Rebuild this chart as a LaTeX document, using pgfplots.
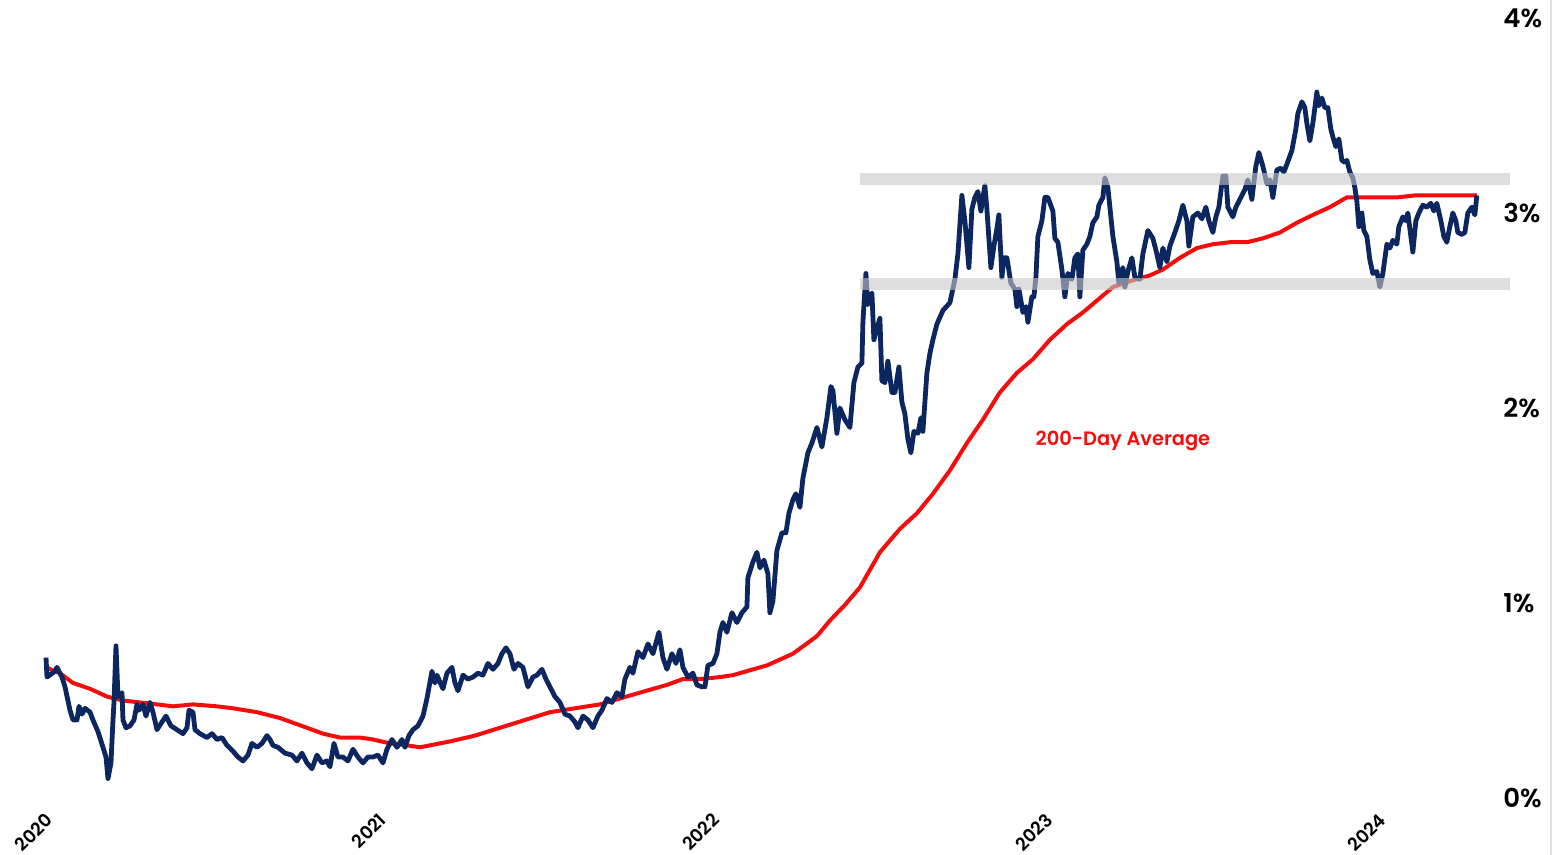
\documentclass[border=0pt]{standalone}
\usepackage{fontspec}
\setmainfont{Poppins}[BoldFont={* SemiBold}]
\usepackage{pgfplots}
\pgfplotsset{compat=1.18}
\definecolor{navy}{RGB}{12,38,96}
\definecolor{avgred}{RGB}{245,12,12}
\definecolor{bandgray}{RGB}{200,200,200}
\begin{document}
\begin{tikzpicture}
\useasboundingbox (-22.5pt,-28.5pt) rectangle (754pt,399pt);
\begin{axis}[
  at={(0,0)}, anchor=south west,
  scale only axis, width=733.25pt, height=390pt,
  xmin=2020, xmax=2024.4, ymin=0, ymax=4,
  axis x line*=bottom, axis y line*=right,
  axis line style={draw=none},
  major tick length=0pt,
  xtick={2020,2021,2022,2023,2024},
  xticklabels={2020,2021,2022,2023,2024},
  ytick={0,1,2,3,4},
  yticklabels={0\%,1\%,2\%,3\%,4\%},
  xticklabel style={font=\fontsize{9}{10}\selectfont\bfseries, rotate=45, anchor=east, inner sep=0pt, xshift=-5.0pt, yshift=-8.2pt},
  yticklabel style={font=\fontsize{13}{14}\selectfont\bfseries, anchor=west, inner sep=0pt, xshift=-4.25pt},
  clip=false,
]
\addplot[avgred, line width=2pt, line join=round] coordinates {
(2020.003,0.67) (2020.045,0.64) (2020.084,0.59) (2020.135,0.56) (2020.186,0.52) (2020.234,0.50)
(2020.285,0.49) (2020.336,0.48) (2020.384,0.47) (2020.444,0.48) (2020.516,0.47) (2020.564,0.46)
(2020.636,0.44) (2020.705,0.41) (2020.786,0.36) (2020.834,0.33) (2020.885,0.31) (2020.945,0.31)
(2020.984,0.30) (2021.035,0.28) (2021.086,0.27) (2021.125,0.26) (2021.215,0.29) (2021.290,0.32)
(2021.365,0.36) (2021.440,0.40) (2021.515,0.44) (2021.590,0.46) (2021.665,0.48) (2021.764,0.53)
(2021.866,0.58) (2021.914,0.61) (2021.965,0.61) (2022.025,0.62) (2022.064,0.63) (2022.166,0.68)
(2022.244,0.74) (2022.316,0.83) (2022.355,0.91) (2022.400,0.99) (2022.445,1.08) (2022.505,1.26)
(2022.565,1.38) (2022.616,1.46) (2022.664,1.56) (2022.715,1.68) (2022.766,1.82) (2022.814,1.94)
(2022.865,2.08) (2022.916,2.18) (2022.964,2.25) (2023.015,2.35) (2023.066,2.43) (2023.114,2.49)
(2023.204,2.62) (2023.255,2.65) (2023.315,2.68) (2023.354,2.71) (2023.405,2.77) (2023.456,2.82)
(2023.504,2.84) (2023.555,2.85) (2023.606,2.85) (2023.654,2.87) (2023.705,2.90) (2023.756,2.95)
(2023.804,2.99) (2023.855,3.03) (2023.906,3.08) (2023.936,3.08) (2023.996,3.08) (2024.056,3.08)
(2024.110,3.09) (2024.155,3.09) (2024.215,3.09) (2024.296,3.09)
};
\addplot[navy, line width=2.4pt, line join=round] coordinates {
(2020.003,0.72) (2020.006,0.62) (2020.030,0.65) (2020.036,0.67) (2020.051,0.62) (2020.060,0.57)
(2020.075,0.45) (2020.084,0.40) (2020.096,0.40) (2020.102,0.47) (2020.111,0.43) (2020.120,0.46)
(2020.135,0.44) (2020.144,0.40) (2020.159,0.34) (2020.174,0.26) (2020.183,0.21) (2020.189,0.10)
(2020.198,0.18) (2020.204,0.40) (2020.207,0.49) (2020.213,0.78) (2020.219,0.52) (2020.231,0.54)
(2020.234,0.40) (2020.243,0.36) (2020.255,0.37) (2020.267,0.40) (2020.276,0.48) (2020.282,0.45)
(2020.294,0.48) (2020.303,0.42) (2020.315,0.49) (2020.324,0.44) (2020.336,0.35) (2020.351,0.39)
(2020.363,0.42) (2020.378,0.37) (2020.396,0.35) (2020.414,0.33) (2020.426,0.36) (2020.432,0.45)
(2020.444,0.44) (2020.450,0.35) (2020.465,0.33) (2020.486,0.31) (2020.501,0.33) (2020.516,0.30)
(2020.531,0.31) (2020.546,0.27) (2020.564,0.24) (2020.579,0.21) (2020.594,0.19) (2020.609,0.22)
(2020.621,0.28) (2020.636,0.26) (2020.651,0.28) (2020.666,0.32) (2020.675,0.30) (2020.684,0.27)
(2020.699,0.26) (2020.720,0.23) (2020.741,0.22) (2020.756,0.19) (2020.771,0.23) (2020.786,0.18)
(2020.801,0.15) (2020.816,0.22) (2020.831,0.18) (2020.846,0.19) (2020.855,0.16) (2020.867,0.28)
(2020.879,0.21) (2020.894,0.21) (2020.909,0.19) (2020.924,0.25) (2020.939,0.21) (2020.954,0.18)
(2020.969,0.21) (2020.984,0.21) (2020.999,0.22) (2021.014,0.18) (2021.026,0.25) (2021.041,0.30)
(2021.056,0.26) (2021.071,0.30) (2021.080,0.26) (2021.092,0.32) (2021.104,0.35) (2021.119,0.37)
(2021.134,0.42) (2021.146,0.51) (2021.161,0.65) (2021.170,0.59) (2021.176,0.63) (2021.194,0.56)
(2021.206,0.64) (2021.221,0.67) (2021.230,0.59) (2021.239,0.55) (2021.254,0.63) (2021.269,0.61)
(2021.284,0.62) (2021.299,0.64) (2021.314,0.63) (2021.329,0.69) (2021.344,0.66) (2021.359,0.69)
(2021.371,0.74) (2021.383,0.77) (2021.395,0.74) (2021.407,0.66) (2021.419,0.69) (2021.434,0.67)
(2021.449,0.57) (2021.464,0.62) (2021.476,0.63) (2021.491,0.66) (2021.503,0.61) (2021.515,0.57)
(2021.530,0.52) (2021.545,0.49) (2021.560,0.43) (2021.575,0.42) (2021.590,0.39) (2021.599,0.36)
(2021.614,0.42) (2021.629,0.40) (2021.644,0.36) (2021.659,0.42) (2021.671,0.45) (2021.686,0.51)
(2021.701,0.49) (2021.716,0.54) (2021.731,0.52) (2021.740,0.61) (2021.755,0.67) (2021.764,0.64)
(2021.779,0.75) (2021.794,0.72) (2021.809,0.79) (2021.824,0.74) (2021.842,0.85) (2021.854,0.72)
(2021.866,0.66) (2021.881,0.74) (2021.893,0.69) (2021.905,0.76) (2021.914,0.67) (2021.929,0.62)
(2021.944,0.64) (2021.956,0.58) (2021.971,0.57) (2021.980,0.57) (2021.989,0.68) (2022.004,0.69)
(2022.016,0.74) (2022.025,0.85) (2022.034,0.90) (2022.046,0.85) (2022.061,0.95) (2022.076,0.90)
(2022.091,0.95) (2022.106,0.98) (2022.109,1.13) (2022.124,1.21) (2022.136,1.26) (2022.145,1.18)
(2022.157,1.22) (2022.169,1.15) (2022.175,0.95) (2022.184,1.01) (2022.196,1.27) (2022.211,1.36)
(2022.223,1.36) (2022.232,1.46) (2022.244,1.53) (2022.253,1.56) (2022.265,1.49) (2022.274,1.64)
(2022.289,1.77) (2022.301,1.82) (2022.316,1.90) (2022.331,1.80) (2022.346,1.95) (2022.358,2.11)
(2022.364,2.09) (2022.376,1.87) (2022.385,2.00) (2022.400,1.94) (2022.415,1.90) (2022.427,2.13)
(2022.439,2.21) (2022.451,2.23) (2022.454,2.44) (2022.463,2.69) (2022.469,2.53) (2022.481,2.59)
(2022.487,2.35) (2022.505,2.46) (2022.511,2.14) (2022.520,2.13) (2022.529,2.24) (2022.541,2.08)
(2022.550,2.08) (2022.562,2.21) (2022.571,2.03) (2022.580,1.97) (2022.589,1.84) (2022.598,1.77)
(2022.607,1.88) (2022.619,1.87) (2022.628,1.95) (2022.634,1.88) (2022.646,2.18) (2022.655,2.28)
(2022.664,2.35) (2022.676,2.43) (2022.694,2.50) (2022.715,2.54) (2022.730,2.66) (2022.739,2.79)
(2022.751,3.09) (2022.760,2.96) (2022.772,2.72) (2022.781,3.02) (2022.790,3.08) (2022.799,3.11)
(2022.808,3.01) (2022.814,3.08) (2022.820,3.14) (2022.826,3.02) (2022.838,2.72) (2022.847,2.83)
(2022.856,2.92) (2022.862,2.99) (2022.871,2.67) (2022.877,2.77) (2022.886,2.77) (2022.898,2.64)
(2022.910,2.61) (2022.916,2.52) (2022.922,2.61) (2022.934,2.49) (2022.943,2.52) (2022.949,2.44)
(2022.961,2.57) (2022.967,2.57) (2022.973,2.67) (2022.979,2.88) (2022.991,2.96) (2023.000,3.08)
(2023.009,3.08) (2023.024,3.01) (2023.030,2.87) (2023.039,2.85) (2023.051,2.71) (2023.060,2.57)
(2023.069,2.69) (2023.081,2.66) (2023.090,2.77) (2023.099,2.79) (2023.105,2.57) (2023.114,2.81)
(2023.126,2.84) (2023.135,2.88) (2023.144,2.95) (2023.156,2.98) (2023.162,3.04) (2023.174,3.08)
(2023.180,3.18) (2023.189,3.13) (2023.204,2.88) (2023.216,2.75) (2023.222,2.64) (2023.234,2.72)
(2023.240,2.62) (2023.249,2.70) (2023.261,2.77) (2023.270,2.67) (2023.285,2.66) (2023.294,2.79)
(2023.309,2.91) (2023.324,2.87) (2023.336,2.79) (2023.345,2.72) (2023.354,2.82) (2023.366,2.75)
(2023.375,2.83) (2023.390,2.90) (2023.402,2.96) (2023.414,3.04) (2023.426,2.96) (2023.432,2.83)
(2023.444,2.98) (2023.459,3.00) (2023.471,2.97) (2023.483,3.03) (2023.492,2.96) (2023.504,2.90)
(2023.513,2.98) (2023.522,3.03) (2023.534,3.19) (2023.543,3.19) (2023.549,3.03) (2023.564,2.98)
(2023.573,3.03) (2023.585,3.07) (2023.600,3.12) (2023.609,3.17) (2023.621,3.07) (2023.633,3.24)
(2023.642,3.31) (2023.654,3.24) (2023.666,3.15) (2023.675,3.17) (2023.684,3.08) (2023.696,3.22)
(2023.708,3.23) (2023.717,3.21) (2023.726,3.25) (2023.741,3.32) (2023.753,3.43) (2023.759,3.51)
(2023.771,3.57) (2023.780,3.54) (2023.786,3.46) (2023.795,3.37) (2023.804,3.46) (2023.816,3.62)
(2023.822,3.55) (2023.831,3.59) (2023.840,3.54) (2023.849,3.54) (2023.858,3.43) (2023.864,3.39)
(2023.873,3.34) (2023.882,3.38) (2023.891,3.27) (2023.900,3.26) (2023.906,3.27) (2023.915,3.21)
(2023.924,3.18) (2023.930,3.13) (2023.936,3.06) (2023.942,2.93) (2023.951,3.00) (2023.957,2.91)
(2023.966,2.88) (2023.975,2.76) (2023.984,2.69) (2023.996,2.70) (2024.005,2.62) (2024.014,2.69)
(2024.026,2.84) (2024.035,2.82) (2024.044,2.86) (2024.056,2.84) (2024.062,2.93) (2024.074,2.98)
(2024.083,2.96) (2024.089,3.00) (2024.104,2.80) (2024.113,2.96) (2024.122,3.00) (2024.134,3.04)
(2024.146,3.03) (2024.158,3.05) (2024.167,3.01) (2024.176,3.05) (2024.188,2.96) (2024.197,2.88)
(2024.206,2.85) (2024.215,2.93) (2024.224,3.00) (2024.233,2.96) (2024.239,2.90) (2024.251,2.89)
(2024.260,2.90) (2024.269,3.00) (2024.281,3.03) (2024.290,2.99) (2024.296,3.09)
};
\fill[bandgray, opacity=0.6] (axis cs:2022.445,3.144) rectangle (axis cs:2024.396,3.205);
\fill[bandgray, opacity=0.6] (axis cs:2022.445,2.605) rectangle (axis cs:2024.396,2.667);
\node[text=avgred, font=\fontsize{9.7}{12}\selectfont\bfseries] at (axis cs:2023.234,1.83) {200-Day Average};
\end{axis}
\draw[black!12, line width=0.8pt] (753pt,-28.5pt) -- (753pt,399pt);
\end{tikzpicture}
\end{document}
